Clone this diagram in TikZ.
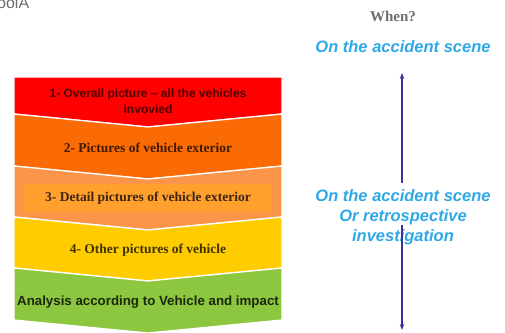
\documentclass[tikz,border=0pt]{standalone}
\usepackage{fontspec}
\setmainfont{Liberation Serif}
\setsansfont{Liberation Sans}
\usetikzlibrary{arrows.meta, positioning}
\definecolor{cRed}   {HTML}{FF0000}
\definecolor{cOrange}{HTML}{FA6A05}
\definecolor{cPeach} {HTML}{FC9549}
\definecolor{cAmber} {HTML}{FFA12C}
\definecolor{cYellow}{HTML}{FFCC00}
\definecolor{cGreen} {HTML}{8DC63F}
\definecolor{cSky}   {HTML}{2EA8E6}
\definecolor{cNavy}  {HTML}{3A3299}
\definecolor{cGrey}  {HTML}{6D6D6D}

\begin{document}
\begin{tikzpicture}[
  x=1pt, y=-1pt,
  band/.style={fill=#1, draw=white, line width=1.3pt, line join=miter},
  stepsans/.style 2 args={font=\sffamily\bfseries\fontsize{#2}{16}\selectfont,
    text=#1, align=center, inner sep=1pt},
  stepserif/.style={font=\bfseries\fontsize{13.5}{16}\selectfont,
    text=#1, align=center, inner sep=1pt},
  when/.style={font=\sffamily\bfseries\itshape\fontsize{16.5}{20}\selectfont,
    text=cSky, align=center},
  arr/.style={-{Stealth[length=6pt,width=4.5pt]}, line width=1.1pt, color=cNavy},
]
\useasboundingbox (0,0) rectangle (505,332);

%% ── title remnant (cut by the page edge) ─────────────────────────────
\node[anchor=base west, inner sep=0pt, text=cGrey,
  font=\sffamily\fontsize{16}{18}\selectfont] (title) at (-3,9) {oolA};

%% ── chevron bands ────────────────────────────────────────────────────
\foreach \yt/\yb/\dt/\col in {77/114/0/cRed, 114/166/13/cOrange,
    166/217/13/cPeach, 217/268/13/cYellow, 268/320/13/cGreen}
  \filldraw[band=\col] (14,\yt) -- (148,\yt+\dt) -- (282,\yt)
    -- (282,\yb) -- (148,\yb+13) -- (14,\yb) -- cycle;

%% ── band labels ──────────────────────────────────────────────────────
\node[stepsans={cRed!30!black}{12}] (s1) at (148,101)
  {1- Overall picture -- all the vehicles\\invovied};
\node[stepserif=cOrange!25!black] (s2) at (148,148)
  {2- Pictures of vehicle exterior};
\node[stepserif=cPeach!25!black, fill=cAmber,
  minimum width=248pt, minimum height=28pt] (s3) at (148,198)
  {3- Detail pictures of vehicle exterior};
\node[stepserif=cYellow!25!black] (s4) at (148,250)
  {4- Other pictures of vehicle};
\node[stepsans={cGreen!20!black}{13.3}] (s5) at (148,302)
  {Analysis according to Vehicle and impact};

%% ── when? column ─────────────────────────────────────────────────────
\node[font=\bfseries\fontsize{15}{17}\selectfont, text=cGrey] (whenq)
  at (393,16) {When?};
\node[when] (scene) at (403,47) {On the accident scene};
\node[when] (later) at (403,217)
  {On the accident scene\\Or retrospective\\investigation};

\coordinate (upend)   at (402,73);
\coordinate (gapA)    at (402,183);
\coordinate (gapB)    at (402,225);
\coordinate (downend) at (402,330);

\draw[arr] (gapA) -- (upend);
\draw[arr] (gapB) -- (downend);

\end{tikzpicture}
\end{document}
